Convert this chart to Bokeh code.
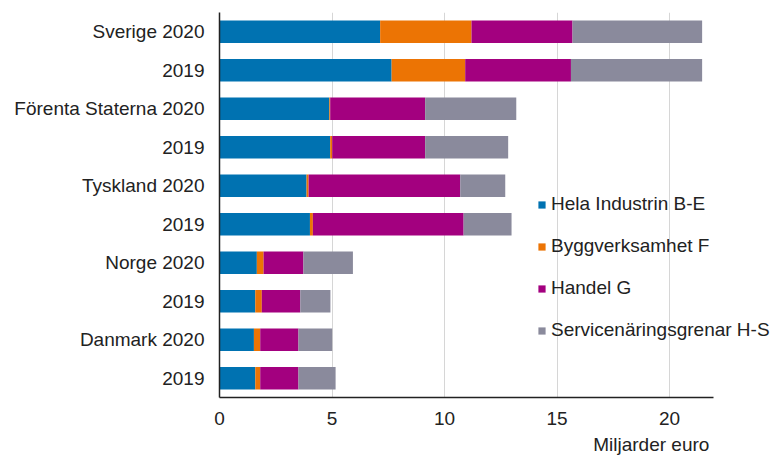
from bokeh.plotting import figure
from bokeh.models import ColumnDataSource, Range1d, FixedTicker, Title
from bokeh.embed import file_html
from bokeh.resources import INLINE

labels = ["Sverige 2020", "2019", "Förenta Staterna 2020", "2019", "Tyskland 2020",
          "2019", "Norge 2020", "2019", "Danmark 2020", "2019"]
industri = [7.14, 7.65, 4.88, 4.92, 3.87, 4.02, 1.66, 1.59, 1.53, 1.59]
bygg = [4.06, 3.27, 0.04, 0.09, 0.09, 0.13, 0.30, 0.29, 0.28, 0.22]
handel = [4.49, 4.70, 4.22, 4.13, 6.74, 6.70, 1.77, 1.71, 1.70, 1.70]
service = [5.76, 5.83, 4.05, 3.69, 2.00, 2.13, 2.20, 1.34, 1.50, 1.65]
series = ["Hela Industrin B-E", "Byggverksamhet F", "Handel G", "Servicenäringsgrenar H-S"]
colors = ["#0072B1", "#EC7404", "#A3007F", "#8A8A9C"]
x_ticks = [0, 5, 10, 15, 20]
x_axis_end = 21.95

ypos = list(range(len(labels)))
keys = ["industri", "bygg", "handel", "service"]
source = ColumnDataSource(dict(y=ypos, industri=industri, bygg=bygg, handel=handel, service=service))

FONT = "Liberation Sans"
TXT = "#222222"
FS = "19px"

W, H = 771, 459
left, top, bottom = 219, 12, 61
px_per_unit = 22.5
frame_w = W - left
p = figure(width=W, height=H, output_backend="svg", toolbar_location=None,
           x_range=Range1d(0, frame_w / px_per_unit), y_range=Range1d(len(labels) - 0.5, -0.5),
           min_border_left=left, min_border_right=0, min_border_top=top, min_border_bottom=bottom)
p.outline_line_color = None

p.hbar_stack(keys, y="y", height=0.58, color=colors, source=source,
             legend_label=series, line_color=None)

p.xaxis.ticker = FixedTicker(ticks=x_ticks)
p.xaxis.bounds = (0, x_axis_end)
p.yaxis.ticker = FixedTicker(ticks=ypos)
p.yaxis.major_label_overrides = {i: lab for i, lab in enumerate(labels)}

for ax in (p.xaxis[0], p.yaxis[0]):
    ax.axis_line_color = "#222222"
    ax.axis_line_width = 1.5
    ax.major_tick_line_color = None
    ax.minor_tick_line_color = None
    ax.major_tick_out = 0
    ax.major_tick_in = 0
    ax.major_label_text_font = FONT
    ax.major_label_text_font_size = FS
    ax.major_label_text_color = TXT
p.xaxis.major_label_standoff = 14
p.yaxis.major_label_standoff = 15

p.xgrid.grid_line_color = "#d6d6d6"
p.xgrid.grid_line_width = 1
p.ygrid.grid_line_color = None

t = Title(text="Miljarder euro", align="right", text_font=FONT, text_font_size=FS,
          text_font_style="normal", text_color=TXT, standoff=9,
          offset=(frame_w - x_axis_end * px_per_unit) + 4)
p.add_layout(t, "below")

lg = p.legend[0]
lg.location = (318, 56)
lg.margin = 0
lg.padding = 0
lg.spacing = 20
lg.label_height = 20
lg.glyph_width = 9
lg.glyph_height = 9
lg.label_standoff = 5
lg.label_text_font = FONT
lg.label_text_font_size = FS
lg.label_text_color = TXT
lg.background_fill_alpha = 0
lg.border_line_color = None

open("out.html", "w").write(file_html(p, INLINE))
